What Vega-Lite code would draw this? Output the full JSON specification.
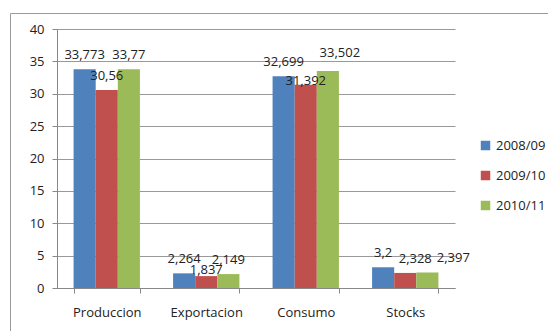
{
  "$schema": "https://vega.github.io/schema/vega-lite/v6.json",
  "autosize": "none",
  "width": 539,
  "height": 319,
  "padding": {"left": 10, "top": 13, "right": 0, "bottom": 0},
  "background": "white",
  "config": {
    "locale": {"number": {"decimal": ",", "thousands": ".", "grouping": [3], "currency": ["", ""]}},
    "view": {"stroke": "#9a9a9a", "strokeWidth": 1},
    "font": "Open Sans",
    "axis": {"labelFont": "Open Sans", "labelFontSize": 13, "labelColor": "#222", "domainColor": "#888", "tickColor": "#888", "gridColor": "#999", "tickSize": 5},
    "legend": {"labelFont": "Open Sans", "labelFontSize": 13, "labelColor": "#222"}
  },
  "data": {"values": [
    {"cat": "Produccion", "serie": "2008/09", "v": 33.773},
    {"cat": "Produccion", "serie": "2009/10", "v": 30.56},
    {"cat": "Produccion", "serie": "2010/11", "v": 33.77},
    {"cat": "Exportacion", "serie": "2008/09", "v": 2.264},
    {"cat": "Exportacion", "serie": "2009/10", "v": 1.837},
    {"cat": "Exportacion", "serie": "2010/11", "v": 2.149},
    {"cat": "Consumo", "serie": "2008/09", "v": 32.699},
    {"cat": "Consumo", "serie": "2009/10", "v": 31.392},
    {"cat": "Consumo", "serie": "2010/11", "v": 33.502},
    {"cat": "Stocks", "serie": "2008/09", "v": 3.2},
    {"cat": "Stocks", "serie": "2009/10", "v": 2.328},
    {"cat": "Stocks", "serie": "2010/11", "v": 2.397}
  ]},
  "encoding": {
    "x": {"field": "cat", "type": "nominal", "sort": null,
      "scale": {"paddingInner": 0.3333, "paddingOuter": 0.1667, "range": [47, 445]},
      "axis": {"title": null, "labelAngle": 0, "tickBand": "extent", "labelPadding": 13, "labelBaseline": "top", "offset": -44}},
    "xOffset": {"field": "serie", "type": "nominal", "scale": {"paddingInner": 0, "paddingOuter": 0}},
    "y": {"field": "v", "type": "quantitative",
      "scale": {"domain": [0, 40], "nice": false, "range": [275, 16]},
      "axis": {"title": null, "values": [0, 5, 10, 15, 20, 25, 30, 35, 40], "labelPadding": 8, "domain": true, "offset": -47}}
  },
  "layer": [
    {"mark": {"type": "bar"},
     "encoding": {"color": {"field": "serie", "type": "nominal",
        "scale": {"range": ["#4F81BD", "#C0504D", "#9BBB59"]},
        "legend": {"title": null, "orient": "none", "legendX": 469, "legendY": 126, "symbolType": "square", "symbolSize": 90, "symbolStrokeWidth": 0, "rowPadding": 16, "labelOffset": 4}}}},
    {"transform": [{"filter": "!((datum.cat == 'Exportacion' && datum.serie == '2009/10') || (datum.cat == 'Consumo' && datum.serie != '2008/09') || (datum.cat == 'Stocks' && datum.serie != '2008/09'))"}],
     "mark": {"type": "text", "baseline": "alphabetic", "dy": -10, "fontSize": 13, "color": "#222"},
     "encoding": {"text": {"field": "v", "type": "quantitative", "format": "~g"}}},
    {"transform": [{"filter": "datum.cat == 'Exportacion' && datum.serie == '2009/10'"}],
     "mark": {"type": "text", "baseline": "alphabetic", "dy": -2, "fontSize": 13, "color": "#222"},
     "encoding": {"text": {"field": "v", "type": "quantitative", "format": "~g"}}},
    {"transform": [{"filter": "datum.cat == 'Consumo' && datum.serie == '2009/10'"}],
     "mark": {"type": "text", "baseline": "alphabetic", "dy": 0, "fontSize": 13, "color": "#222"},
     "encoding": {"text": {"field": "v", "type": "quantitative", "format": "~g"}}},
    {"transform": [{"filter": "datum.cat == 'Consumo' && datum.serie == '2010/11'"}],
     "mark": {"type": "text", "baseline": "alphabetic", "dx": 12, "dy": -14, "fontSize": 13, "color": "#222"},
     "encoding": {"text": {"field": "v", "type": "quantitative", "format": "~g"}}},
    {"transform": [{"filter": "datum.cat == 'Stocks' && datum.serie == '2009/10'"}],
     "mark": {"type": "text", "baseline": "alphabetic", "dx": 10, "dy": -10, "fontSize": 13, "color": "#222"},
     "encoding": {"text": {"field": "v", "type": "quantitative", "format": "~g"}}},
    {"transform": [{"filter": "datum.cat == 'Stocks' && datum.serie == '2010/11'"}],
     "mark": {"type": "text", "baseline": "alphabetic", "dx": 26, "dy": -10, "fontSize": 13, "color": "#222"},
     "encoding": {"text": {"field": "v", "type": "quantitative", "format": "~g"}}}
  ]
}
